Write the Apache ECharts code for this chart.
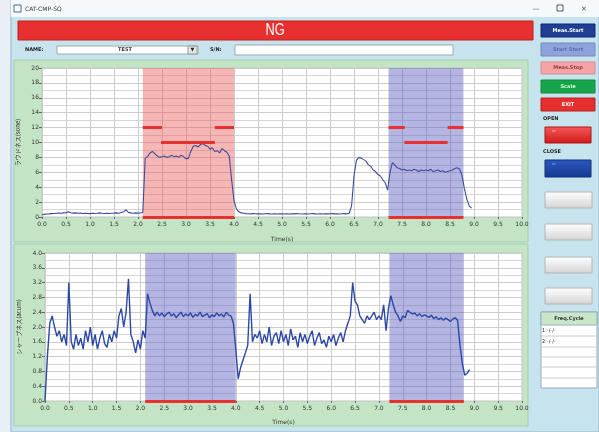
<!DOCTYPE html>
<html>
<head>
<meta charset="utf-8">
<title>CAT-CMP-SQ</title>
<script src="https://cdn.jsdelivr.net/npm/echarts@6/dist/echarts.min.js"></script>
<style>
html,body{margin:0;padding:0;background:#e9eff4;}
#main{width:599px;height:432px;}
</style>
</head>
<body>
<div id="main"></div>
<script>
'use strict'
// recorder sample clock (s)
var sampleStep = 0.05;

// loudness (sone), one value per sample from 0.00 s
var loudness = [
  0.30,0.35,0.40,0.42,0.45,0.48,0.50,0.52,0.50,0.55,
  0.58,0.72,0.56,0.52,0.55,0.50,0.52,0.47,0.50,0.46,
  0.45,0.50,0.46,0.50,0.55,0.50,0.46,0.50,0.47,0.50,
  0.52,0.55,0.50,0.60,0.70,0.95,0.62,0.55,0.50,0.55,
  0.52,0.55,0.60,7.90,8.10,8.60,8.80,8.50,8.20,8.00,
  8.10,8.20,8.00,8.10,8.30,8.10,8.20,8.00,8.30,8.10,
  7.80,7.90,8.80,9.50,9.60,9.40,9.70,9.90,9.60,9.50,
  9.10,9.30,8.80,8.90,8.60,9.20,8.90,8.70,8.20,5.00,
  2.20,1.10,0.70,0.55,0.50,0.45,0.44,0.42,0.45,0.43,
  0.42,0.44,0.40,0.43,0.45,0.42,0.40,0.43,0.41,0.44,
  0.42,0.40,0.43,0.41,0.44,0.42,0.45,0.43,0.41,0.42,
  0.44,0.41,0.43,0.45,0.42,0.40,0.43,0.41,0.44,0.42,
  0.43,0.45,0.42,0.44,0.41,0.43,0.45,0.42,0.50,1.50,
  5.50,7.60,8.00,7.90,7.70,7.50,7.00,6.80,6.30,6.10,
  5.70,5.50,5.00,4.60,3.60,6.00,7.30,7.00,6.60,6.50,
  6.30,6.40,6.20,6.30,6.20,6.40,6.30,6.10,6.30,6.20,
  6.30,6.20,6.40,6.10,6.20,6.30,6.10,6.20,6.00,6.10,
  6.20,6.30,6.50,6.60,6.40,5.60,3.80,2.40,1.50,1.20
];

// sharpness (acum), same clock
var sharpness = [
  0.00,1.20,2.10,2.30,2.00,1.75,1.90,1.60,1.80,1.50,
  3.20,1.60,1.40,1.80,1.50,1.70,1.40,1.90,1.60,2.00,
  1.50,1.80,1.40,1.70,1.90,1.55,1.45,1.80,1.60,1.90,
  1.70,2.30,2.50,2.00,2.40,3.30,1.80,1.60,1.30,1.65,
  1.40,1.90,1.70,2.90,2.65,2.45,2.30,2.40,2.30,2.38,
  2.28,2.35,2.40,2.30,2.36,2.25,2.33,2.40,2.28,2.35,
  2.30,2.38,2.26,2.34,2.30,2.40,2.28,2.32,2.36,2.25,
  2.33,2.28,2.38,2.30,2.35,2.27,2.40,2.32,2.30,2.10,
  1.40,0.60,0.90,1.10,1.30,1.50,2.90,1.60,1.80,1.70,
  1.90,1.55,1.80,1.60,2.00,1.50,1.75,1.85,1.55,1.90,
  1.60,1.80,1.50,1.95,1.65,1.75,1.45,1.85,1.60,1.80,
  1.55,1.75,1.90,1.50,1.70,1.85,1.55,1.65,1.45,1.75,
  1.60,1.80,1.50,1.70,1.85,1.60,1.90,2.10,2.30,3.20,
  2.70,2.60,2.30,2.20,2.10,2.30,2.20,2.30,2.40,2.20,
  2.30,2.20,2.60,1.90,2.50,2.85,2.60,2.40,2.30,2.15,
  2.30,2.25,2.45,2.40,2.35,2.38,2.30,2.36,2.28,2.33,
  2.30,2.26,2.32,2.22,2.28,2.20,2.25,2.18,2.24,2.20,
  2.15,2.22,2.25,2.18,1.50,1.00,0.70,0.75,0.85
];

// judgement windows (s)
var windowOpen = [2.1, 4.0];
var windowClose = [7.22, 8.78];

// limit segments [from, to, level]
var loudLimits = [
  [2.1, 2.5, 12], [3.6, 4.0, 12], [2.48, 3.6, 10],
  [7.22, 7.56, 12], [8.45, 8.78, 12], [7.55, 8.45, 10],
  [2.1, 4.0, 0], [7.22, 8.78, 0]
];
var sharpLimits = [
  [2.1, 4.0, 0], [7.22, 8.78, 0]
];

var freqCycle = ['1:-/-/-', '2:-/-/-'];

var font = '"DejaVu Sans", sans-serif';
var red = '#e8302e';
var pink = 'rgba(235,80,80,0.42)';
var violet = 'rgba(90,90,190,0.45)';

function toPairs(values){
    return values.map(function(v, i){
        return [+(i * sampleStep).toFixed(2), v];
    });
}
function limitLines(list){
    return list.map(function(s){
        return [{coord:[s[0], s[2]]}, {coord:[s[1], s[2]]}];
    });
}
function area(range, color){
    return [{xAxis: range[0], itemStyle:{color: color}}, {xAxis: range[1]}];
}

// ---- window chrome drawn with graphic elements
function rect(x, y, w, h, fill, stroke, z){
    return {type:'rect', shape:{x:x, y:y, width:w, height:h}, z: z || 0,
        style:{fill:fill, stroke:stroke || null, lineWidth:1}};
}
function text(x, y, str, fnt, color, align){
    return {type:'text', x:x, y:y, z:10,
        style:{text:str, font:fnt, fill:color || '#222',
            textAlign: align || 'left', textVerticalAlign:'middle'}};
}
function grad(c1, c2){
    return new echarts.graphic.LinearGradient(0, 0, 0, 1, [
        {offset:0, color:c1}, {offset:1, color:c2}]);
}

var small = 'bold 5px ' + font;
var ngLabel = text(275, 31, 'NG', '16px "Liberation Sans", sans-serif', '#fff', 'center');
ngLabel.scaleX = 0.8;
var chrome = [
    rect(11, 0, 588, 432, '#c7e4ee', '#8fb6cf', -20),
    rect(11, 0, 588, 17, '#f6f9fb', null, -19),
    rect(14, 5, 7, 7, '#fff', '#4a6a90', -18),
    text(25, 9, 'CAT-CMP-SQ', '6px ' + font, '#333'),
    text(536, 9, '—', '7px ' + font, '#555', 'center'),
    rect(557, 5, 6, 6, null, '#555', -18),
    text(584, 9, '✕', '7px ' + font, '#555', 'center'),
    rect(18, 21, 515, 19, red, '#c01f1f', -18),
    ngLabel,
    text(25, 50, 'NAME:', small, '#222'),
    rect(57, 46, 141, 8, '#fff', '#9aa', -18),
    text(125, 50, 'TEST', small, '#333', 'center'),
    rect(188, 46, 9, 8, '#e6e6e6', '#999', -17),
    text(192.5, 50, '▼', '5px ' + font, '#222', 'center'),
    text(210, 50, 'S/N:', small, '#222'),
    rect(235, 45, 218, 10, '#fff', '#9aa', -18),
    // chart panels
    rect(14, 60, 514, 182, '#c3e4c5', '#a6cfa9', -15),
    rect(14, 244, 514, 182, '#c3e4c5', '#a6cfa9', -15),
    // command buttons
    rect(541, 24, 54, 13, '#1f3f93', '#0e2a70', -15),
    text(568, 30.5, 'Meas.Start', small, '#fff', 'center'),
    rect(541, 43, 54, 13, '#8fa2da', '#7388c4', -15),
    text(568, 49.5, 'Start Start', small, '#5a6cb0', 'center'),
    rect(541, 62, 54, 12, '#f2a4a6', '#d88a8c', -15),
    text(568, 68, 'Meas.Stop', small, '#9a3a3a', 'center'),
    rect(541, 80, 54, 13, '#17a54a', '#118a3c', -15),
    text(568, 86.5, 'Scale', small, '#d8ffd8', 'center'),
    rect(541, 98, 54, 13, '#e6302f', '#b82020', -15),
    text(568, 104.5, 'EXIT', small, '#fff', 'center'),
    text(543, 119, 'OPEN', small, '#222'),
    rect(545, 127, 46, 16, grad('#f55a5a', '#d01818'), '#b01515', -15),
    text(552, 131, '━━', '3px ' + font, '#fbdcdc'),
    text(543, 152, 'CLOSE', small, '#222'),
    rect(545, 160, 46, 17, grad('#2d58c0', '#163a92'), '#12307a', -15),
    text(552, 164, '━━', '3px ' + font, '#c8d4f4'),
    // table
    rect(541, 312, 56, 76, '#fff', '#9ab', -15),
    rect(541, 312, 56, 13, '#c8e6c8', '#9ab', -14),
    text(569, 318.5, 'Freq.Cycle', small, '#333', 'center')
];
[192, 224, 257, 288].forEach(function(y){
    chrome.push(rect(545, y, 47, 16, grad('#ffffff', '#d4d4d4'), '#b5b5b5', -15));
});
[325, 336, 347, 357, 367, 378].forEach(function(y){
    chrome.push({type:'line', shape:{x1:541, y1:y, x2:597, y2:y}, z:-13,
        style:{stroke:'#c4ccd4', lineWidth:1}});
});
freqCycle.forEach(function(s, i){
    chrome.push(text(542, 331 + i * 11, s, '5px ' + font, '#222'));
});

var axisText = {fontSize:6, color:'#333', fontFamily:font};
var gridLine = {lineStyle:{color:'#cdcdcd', width:1}};

var myChart = echarts.init(document.getElementById('main'));
myChart.setOption({
    animation: false,
    graphic: {elements: chrome},
    grid: [
        {left:42, top:68, width:480, height:149, show:true, backgroundColor:'#fff', borderColor:'#b8c8b8', borderWidth:1},
        {left:45, top:253, width:477, height:148, show:true, backgroundColor:'#fff', borderColor:'#b8c8b8', borderWidth:1}
    ],
    xAxis: [0, 1].map(function(g){
        return {
            type:'value', gridIndex:g, min:0, max:10, interval:0.5,
            name:'Time(s)', nameLocation:'middle', nameGap: g ? 18 : 19,
            nameTextStyle:{fontSize:6, color:'#333', fontFamily:font},
            axisLine:{show:false},
            axisTick:{show:true, length:2, lineStyle:{color:'#666'}},
            axisLabel:Object.assign({margin:4, formatter:function(v){ return v.toFixed(1); }}, axisText),
            splitLine:gridLine
        };
    }),
    yAxis: [
        {
            type:'value', gridIndex:0, min:0, max:20, interval:2,
            name:'ラウドネス(sone)', nameLocation:'middle', nameGap:20,
            nameTextStyle:{fontSize:6, color:'#333', fontFamily:'"Noto Sans CJK JP", sans-serif'},
            axisLine:{show:false},
            axisTick:{show:true, length:3, lineStyle:{color:'#666'}},
            axisLabel:Object.assign({margin:3}, axisText),
            splitLine:gridLine,
            minorTick:{show:false, splitNumber:2},
            minorSplitLine:{show:true, lineStyle:{color:'#d8d8d8'}}
        },
        {
            type:'value', gridIndex:1, min:0, max:4, interval:0.4,
            name:'シャープネス(acum)', nameLocation:'middle', nameGap:21,
            nameTextStyle:{fontSize:6, color:'#333', fontFamily:'"Noto Sans CJK JP", sans-serif'},
            axisLine:{show:false},
            axisTick:{show:true, length:3, lineStyle:{color:'#666'}},
            axisLabel:Object.assign({margin:3, formatter:function(v){ return v.toFixed(1); }}, axisText),
            splitLine:gridLine,
            minorTick:{show:false, splitNumber:2},
            minorSplitLine:{show:true, lineStyle:{color:'#d8d8d8'}}
        }
    ],
    series: [
        {
            name:'loudness', type:'line', xAxisIndex:0, yAxisIndex:0,
            data: toPairs(loudness), showSymbol:false, silent:true,
            lineStyle:{color:'#3b4c9c', width:1.1},
            markArea:{silent:true, data:[area(windowOpen, pink), area(windowClose, violet)]},
            markLine:{silent:true, symbol:['none','none'], label:{show:false},
                lineStyle:{color:red, width:3, type:'solid'}, data: limitLines(loudLimits)}
        },
        {
            name:'sharpness', type:'line', xAxisIndex:1, yAxisIndex:1,
            data: toPairs(sharpness), showSymbol:false, silent:true,
            lineStyle:{color:'#2c48a6', width:1.4},
            markArea:{silent:true, data:[area(windowOpen, violet), area(windowClose, violet)]},
            markLine:{silent:true, symbol:['none','none'], label:{show:false},
                lineStyle:{color:red, width:3, type:'solid'}, data: limitLines(sharpLimits)}
        }
    ]
});
</script>
</body>
</html>
